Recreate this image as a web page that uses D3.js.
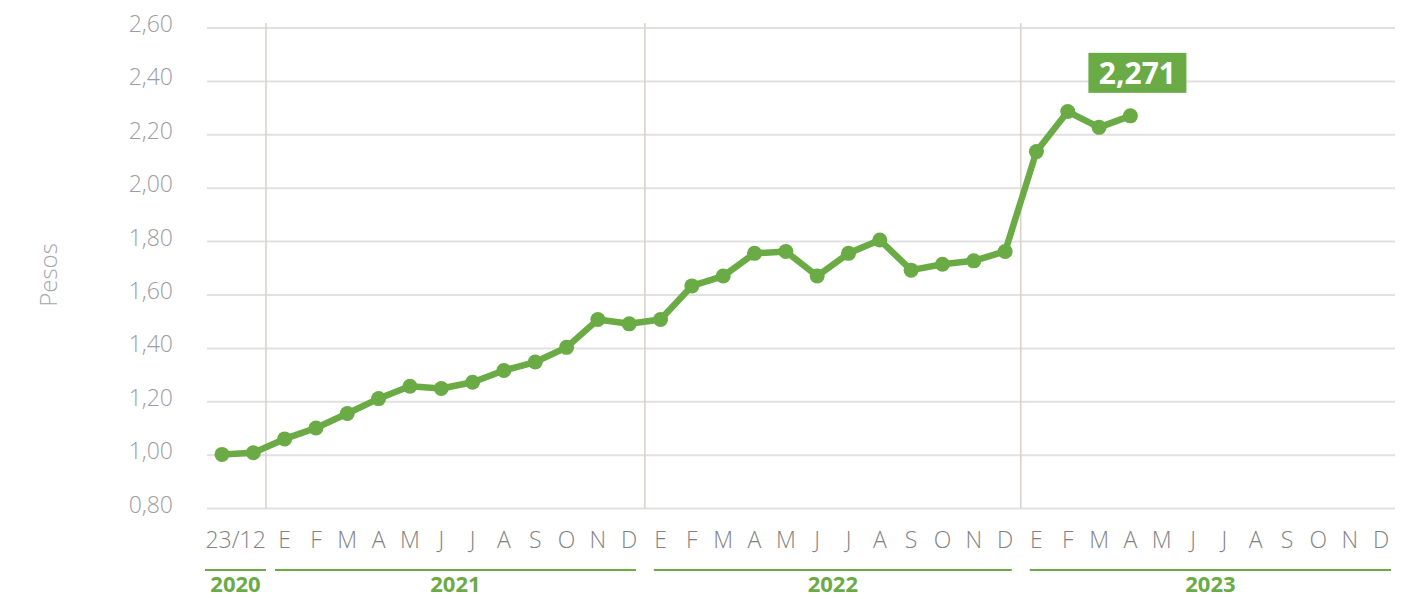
<!DOCTYPE html>
<html>
<head>
<meta charset="utf-8">
<script src="https://cdn.jsdelivr.net/npm/d3@7"></script>
<style>
  body { margin: 0; background: #fff; }
  svg { display: block; font-family: 'Open Sans', 'Noto Sans', sans-serif; }
</style>
</head>
<body>
<svg id="chart" width="1416" height="599"></svg>
<script>
const years = ['2020', '2021', '2022', '2023'];
const monthLetters = ['E', 'F', 'M', 'A', 'M', 'J', 'J', 'A', 'S', 'O', 'N', 'D'];

// two points in Dec 2020, then monthly from Jan 2021 to Dec 2023
const categories = ['2020-12-23', '2020-12-31'].concat(
  ...years.slice(1).map((y) => monthLetters.map((m, i) => `${y}-${String(i + 1).padStart(2, '0')}`))
);
const xLabels = ['23/12', ''].concat(...years.slice(1).map(() => monthLetters));
const values = [
  1.003, 1.009,
  1.061, 1.102, 1.156, 1.212, 1.258, 1.250, 1.273, 1.317, 1.349, 1.404, 1.508, 1.492,
  1.508, 1.634, 1.671, 1.756, 1.763, 1.671, 1.756, 1.806, 1.693, 1.715, 1.728, 1.763,
  2.137, 2.287, 2.228, 2.271
];
const yTicks = [0.8, 1.0, 1.2, 1.4, 1.6, 1.8, 2.0, 2.2, 2.4, 2.6];
const lastLabel = '2,271';

const green = '#6aab45';
const svg = d3.select('#chart');

const x = d3.scalePoint()
  .domain(categories)
  .range([222, 1381]);

const y = d3.scaleLinear()
  .domain([0.8, 2.6])
  .range([508.6, 28]);

const fmt = (v) => v.toFixed(2).replace('.', ',');

// grid
svg.append('g')
  .selectAll('line')
  .data(yTicks)
  .enter()
  .append('line')
  .attr('x1', 207)
  .attr('x2', 1395)
  .attr('y1', (d) => y(d))
  .attr('y2', (d) => y(d))
  .attr('stroke', '#e1e1e1')
  .attr('stroke-width', 2);

svg.append('g')
  .selectAll('text')
  .data(yTicks)
  .enter()
  .append('text')
  .attr('x', 173)
  .attr('y', (d) => y(d) + 4)
  .attr('text-anchor', 'end')
  .attr('font-size', 23)
  .attr('font-weight', 300)
  .attr('fill', '#9c9ca4')
  .text(fmt);

svg.append('text')
  .attr('transform', 'translate(57,275) rotate(-90)')
  .attr('text-anchor', 'middle')
  .attr('font-size', 24)
  .attr('font-weight', 300)
  .attr('fill', '#a6a6ac')
  .text('Pesos');

// year separators: between last point of one year and first of the next
const firstOfYear = years.map((yr) => categories.findIndex((c) => c.startsWith(yr)));
const seps = firstOfYear.slice(1).map((i) => (x(categories[i - 1]) + x(categories[i])) / 2);
seps[0] -= 3;

svg.append('g')
  .selectAll('line')
  .data(seps)
  .enter()
  .append('line')
  .attr('x1', (d) => d)
  .attr('x2', (d) => d)
  .attr('y1', 23)
  .attr('y2', 508)
  .attr('stroke', '#d7d1c9')
  .attr('stroke-width', 1.5);

// month labels
svg.append('g')
  .selectAll('text')
  .data(categories)
  .enter()
  .append('text')
  .attr('x', (d, i) => (i === 0 ? (x(categories[0]) + x(categories[1])) / 2 - 2 : x(d)))
  .attr('y', 548)
  .attr('text-anchor', 'middle')
  .attr('font-size', 23)
  .attr('font-weight', 300)
  .attr('fill', '#828282')
  .text((d, i) => xLabels[i]);

// year bands
const bounds = [205].concat(seps, [1400]);
const yearSegs = years.map((yr, i) => ({
  year: yr,
  x1: i === 0 ? bounds[0] : bounds[i] + 9,
  x2: i === 0 ? bounds[1] : bounds[i + 1] - 9
}));

svg.append('g')
  .selectAll('line')
  .data(yearSegs)
  .enter()
  .append('line')
  .attr('x1', (d) => d.x1)
  .attr('x2', (d) => d.x2)
  .attr('y1', 570)
  .attr('y2', 570)
  .attr('stroke', green)
  .attr('stroke-width', 2);

svg.append('g')
  .selectAll('text')
  .data(yearSegs)
  .enter()
  .append('text')
  .attr('x', (d) => (d.x1 + d.x2) / 2)
  .attr('y', 592)
  .attr('text-anchor', 'middle')
  .attr('font-size', 22)
  .attr('font-weight', 700)
  .attr('fill', green)
  .text((d) => d.year);

// line + markers
const pts = values.map((v, i) => ({ key: categories[i], v }));

svg.append('path')
  .datum(pts)
  .attr('fill', 'none')
  .attr('stroke', green)
  .attr('stroke-width', 6.5)
  .attr('stroke-linejoin', 'round')
  .attr('d', d3.line().x((d) => x(d.key)).y((d) => y(d.v)));

svg.append('g')
  .selectAll('circle')
  .data(pts)
  .enter()
  .append('circle')
  .attr('cx', (d) => x(d.key))
  .attr('cy', (d) => y(d.v))
  .attr('r', 7.5)
  .attr('fill', green);

// value callout on last point
const last = pts[pts.length - 1];
const lx = x(last.key) + 7;
const ly = y(last.v);
svg.append('rect')
  .attr('x', lx - 49)
  .attr('y', ly - 63)
  .attr('width', 98)
  .attr('height', 40)
  .attr('fill', green);

svg.append('text')
  .attr('x', lx)
  .attr('y', ly - 32)
  .attr('text-anchor', 'middle')
  .attr('font-size', 30)
  .attr('font-weight', 700)
  .attr('fill', '#fff')
  .text(lastLabel);
</script>
</body>
</html>
